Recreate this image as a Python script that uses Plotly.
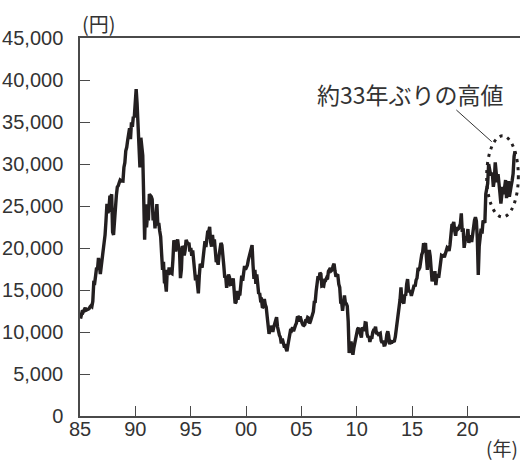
import numpy as np
import plotly.graph_objects as go

# Nikkei 225, monthly levels (yen), Jan 1985 - Jun 2023
y1985 = [11600, 12322, 12580, 12426, 12716, 12882, 12599, 12672, 12700, 12770, 12974, 13113]
y1986 = [13024, 13640, 15859, 15826, 16720, 17654, 17461, 18820, 17852, 16910, 17852, 18701]
y1987 = [20048, 20767, 21566, 23274, 25268, 24176, 24488, 26029, 26011, 26400, 21900, 21564]
y1988 = [23622, 24801, 26260, 27256, 27418, 27769, 28081, 27990, 27924, 27967, 29579, 30159]
y1989 = [31581, 31986, 32839, 33714, 34267, 32949, 34954, 34431, 35637, 35549, 37269, 38916]
y1990 = [37189, 34592, 29980, 29585, 33131, 31940, 31036, 25978, 20984, 25194, 22455, 23849]
y1991 = [23293, 26409, 26292, 26111, 25790, 23291, 24121, 22336, 23916, 25222, 22687, 22984]
y1992 = [22023, 21339, 19346, 17391, 18348, 15952, 15910, 14800, 17399, 16767, 17684, 16925]
y1993 = [17023, 16953, 18591, 20919, 20552, 19591, 20380, 21027, 20106, 19703, 16408, 17417]
y1994 = [20229, 19997, 19112, 19725, 20973, 20644, 20449, 20629, 19564, 19990, 19076, 19723]
y1995 = [18650, 17053, 16140, 16807, 15437, 14600, 16678, 18117, 17913, 17655, 18744, 19868]
y1996 = [20813, 20125, 21407, 22041, 21956, 22530, 20693, 20167, 21556, 20466, 21020, 19361]
y1997 = [18330, 18557, 18003, 19151, 20069, 20605, 20331, 18229, 17888, 16459, 16636, 15259]
y1998 = [16628, 16832, 16527, 15641, 15671, 15830, 16379, 14108, 13406, 13565, 14883, 13842]
y1999 = [14499, 14368, 15837, 16702, 16112, 17530, 17862, 17437, 17606, 17943, 18558, 18934]
y2000 = [19540, 19960, 20337, 17974, 16332, 17411, 15727, 16861, 15747, 14539, 14649, 13785]
y2001 = [13843, 12883, 12999, 13934, 13262, 12969, 11860, 10713, 9774, 10366, 10697, 10542]
y2002 = [9997, 10587, 11024, 11492, 11763, 10621, 9877, 9619, 9383, 8640, 9215, 8578]
y2003 = [8339, 8363, 7972, 7700, 8425, 9083, 9563, 10344, 10219, 10560, 10101, 10677]
y2004 = [10784, 11042, 11715, 11761, 11236, 11858, 11326, 11082, 10824, 10771, 10899, 11489]
y2005 = [11388, 11741, 11668, 11009, 11277, 11584, 11900, 12414, 13574, 13607, 14872, 16111]
y2006 = [16650, 16205, 17060, 16906, 15467, 15505, 15457, 16141, 16128, 16399, 16274, 17226]
y2007 = [17383, 17604, 17288, 17400, 17876, 18138, 17249, 16569, 16786, 16738, 15681, 15308]
y2008 = [13592, 13603, 12526, 13850, 14339, 13481, 13377, 13073, 11260, 7500, 8512, 8860]
y2009 = [7994, 7300, 8110, 8828, 9523, 9958, 10357, 10493, 10133, 10035, 9345, 10546]
y2010 = [10198, 10126, 11090, 11057, 9769, 9383, 9537, 8824, 9369, 9202, 9937, 10229]
y2011 = [10237, 10624, 9755, 9850, 9694, 9816, 9833, 8955, 8700, 8988, 8435, 8455]
y2012 = [8803, 9723, 10084, 9521, 8543, 9007, 8695, 8840, 8870, 8928, 9446, 10395]
y2013 = [11139, 11559, 12398, 13861, 15300, 13677, 13668, 13389, 14456, 14328, 15662, 16291]
y2014 = [14915, 14841, 14828, 14304, 14632, 15162, 15621, 15425, 16174, 16414, 17460, 17451]
y2015 = [17674, 18798, 19207, 19520, 20563, 20236, 20585, 18890, 17388, 19083, 19747, 19034]
y2016 = [17518, 16027, 16759, 16666, 17235, 15576, 16569, 16887, 16450, 17425, 18308, 19114]
y2017 = [19041, 19119, 18909, 19197, 19651, 20033, 19925, 19646, 20356, 22012, 22725, 22765]
y2018 = [23098, 22068, 21454, 22468, 22202, 22305, 22554, 22865, 24120, 21920, 22351, 20015]
y2019 = [20773, 21385, 21206, 22259, 20601, 21276, 21522, 20704, 21756, 22927, 23294, 23657]
y2020 = [23205, 21143, 16800, 20194, 21878, 22288, 21710, 23140, 23185, 22977, 26434, 27444]
y2021 = [27663, 30000, 29179, 28813, 28860, 28792, 27284, 28090, 30200, 28893, 27822, 28792]
y2022 = [27002, 26527, 25300, 26848, 27280, 26393, 27802, 28092, 25937, 27587, 27969, 26095]
y2023 = [27327, 27446, 28041, 28856, 30888, 31500]

nikkei = (y1985 + y1986 + y1987 + y1988 + y1989 + y1990 + y1991 + y1992 + y1993
          + y1994 + y1995 + y1996 + y1997 + y1998 + y1999 + y2000 + y2001 + y2002
          + y2003 + y2004 + y2005 + y2006 + y2007 + y2008 + y2009 + y2010 + y2011
          + y2012 + y2013 + y2014 + y2015 + y2016 + y2017 + y2018 + y2019 + y2020
          + y2021 + y2022 + y2023)

# position of each monthly sample along the year axis
t = np.linspace(1985.05, 2024.3, len(nikkei))

x_ticks = [1985, 1990, 1995, 2000, 2005, 2010, 2015, 2020]
x_labels = ["85", "90", "95", "00", "05", "10", "15", "20"]
y_ticks = [0, 5000, 10000, 15000, 20000, 25000, 30000, 35000, 40000, 45000]
y_labels = ["0", "5,000", "10,000", "15,000", "20,000", "25,000",
            "30,000", "35,000", "40,000", "45,000"]

note = "約33年ぶりの高値"

INK = "#231f20"
AXIS = "#4a4a4a"
TEXT = "#333333"
NUM_FONT = "Liberation Sans, Arial, sans-serif"
JP_FONT = "Noto Sans CJK JP, sans-serif"

fig = go.Figure()
fig.add_trace(go.Scatter(
    x=t, y=nikkei, mode="lines",
    line=dict(color=INK, width=3.4),
    hoverinfo="skip", showlegend=False,
))

# dotted ring around the latest high and its pointer line
fig.add_shape(type="circle", xref="x", yref="y",
              x0=2021.74, x1=2024.6, y0=23700, y1=33350,
              line=dict(color=INK, width=3, dash="3px,5px"))
fig.add_shape(type="line", xref="x", yref="y",
              x0=2019.0, y0=36430, x1=2022.2, y1=32650,
              line=dict(color=TEXT, width=1))

fig.add_annotation(text=note, xref="paper", yref="paper",
                   x=0.752, y=0.852, xanchor="center", yanchor="middle",
                   showarrow=False, font=dict(family=JP_FONT, size=23, color=TEXT))
fig.add_annotation(text="(円)", xref="paper", yref="paper",
                   x=0.0, y=1.038, xanchor="left", yanchor="middle",
                   showarrow=False, font=dict(family=JP_FONT, size=20, color=TEXT))
fig.add_annotation(text="(年)", xref="paper", yref="paper",
                   x=1.0, y=-0.124, xanchor="right", yanchor="bottom",
                   showarrow=False, font=dict(family=JP_FONT, size=19, color=TEXT))

fig.update_xaxes(
    range=[1985, 2024.75], tickvals=x_ticks, ticktext=x_labels,
    showgrid=False, zeroline=False, automargin=False,
    showline=True, linecolor=AXIS, linewidth=1.5, mirror=True,
    ticks="inside", ticklen=10, tickwidth=1.3, tickcolor=AXIS,
    ticklabelstandoff=-6,
    tickfont=dict(family=NUM_FONT, size=20, color=TEXT),
)
fig.update_yaxes(
    range=[0, 45000], tickvals=y_ticks, ticktext=y_labels,
    showgrid=False, zeroline=False, automargin=False,
    showline=True, linecolor=AXIS, linewidth=1.5,
    ticks="inside", ticklen=10, tickwidth=1.3, tickcolor=AXIS,
    ticklabelstandoff=11,
    tickfont=dict(family=NUM_FONT, size=20, color=TEXT),
)

fig.update_layout(
    width=520, height=463,
    margin=dict(l=80, r=0, t=38, b=47),
    paper_bgcolor="white", plot_bgcolor="white",
)

fig.write_html("out.html")
